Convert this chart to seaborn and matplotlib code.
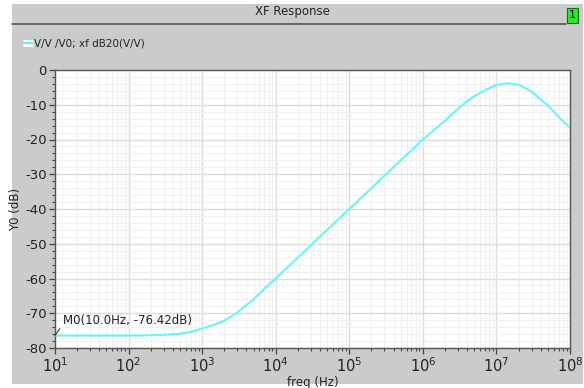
import numpy as np
import pandas as pd
import seaborn as sns
import matplotlib
matplotlib.use("Agg")
import matplotlib.pyplot as plt
from matplotlib.ticker import LogLocator, MultipleLocator, NullFormatter, FixedLocator
from matplotlib.patches import Rectangle
from matplotlib.lines import Line2D

# ---- data ----
freq_hz = [10, 50, 100, 200, 300, 500, 700, 1e3, 1.5e3, 2e3, 3e3, 5e3, 7e3,
           1e4, 2e4, 5e4, 1e5, 2e5, 5e5, 1e6, 2e6, 3e6, 4e6, 5e6, 7e6,
           1e7, 1.4e7, 2e7, 3e7, 5e7, 7e7, 1e8]
gain_db = [-76.42, -76.42, -76.41, -76.36, -76.2, -75.9, -75.4, -74.4, -73.2,
           -72.2, -69.8, -66.0, -63.0, -60.0, -54.0, -46.0, -40.0, -34.0,
           -26.0, -20.0, -14.6, -11.2, -9.0, -7.6, -5.8, -4.3, -3.8, -4.2,
           -6.2, -10.2, -13.5, -16.6]
x_ticks = [1e1, 1e2, 1e3, 1e4, 1e5, 1e6, 1e7, 1e8]
x_tick_labels = [r"$10^{1}$", r"$10^{2}$", r"$10^{3}$", r"$10^{4}$",
                 r"$10^{5}$", r"$10^{6}$", r"$10^{7}$", r"$10^{8}$"]
y_ticks = [0, -10, -20, -30, -40, -50, -60, -70, -80]
title_text = "XF Response"
legend_text = "V/V /V0; xf dB20(V/V)"
marker_text = "M0(10.0Hz, -76.42dB)"
marker_point = (10.0, -76.42)

df = pd.DataFrame({"freq": freq_hz, "db": gain_db})

sns.set_theme(style="white")
plt.rcParams["font.family"] = ["DejaVu Sans"]
plt.rcParams["axes.unicode_minus"] = False
plt.rcParams["mathtext.default"] = "regular"

W, H = 584, 388
fig = plt.figure(figsize=(W / 100, H / 100), dpi=100)
fig.patch.set_facecolor("white")

gray = "#cbcbcb"
fig.add_artist(Rectangle((12 / W, 1 - 384 / H), (583 - 12) / W, (384 - 4) / H,
                         transform=fig.transFigure, facecolor=gray,
                         edgecolor="none", zorder=0))
fig.add_artist(Line2D([12 / W, 566 / W], [1 - 24 / H, 1 - 24 / H],
                      transform=fig.transFigure, color="#555555", lw=1.2))
fig.add_artist(Rectangle((567 / W, 1 - 23 / H), 11 / W, 15 / H,
                         transform=fig.transFigure, facecolor="#22ee22",
                         edgecolor="#226622", lw=0.8))
fig.text(572.5 / W, 1 - 15.5 / H, "1", ha="center", va="center",
         fontsize=8, color="black")
fig.text(292 / W, 1 - 12 / H, title_text, ha="center", va="center",
         fontsize=8.5, color="#222222")

fig.add_artist(Line2D([23 / W, 33 / W], [1 - 43 / H, 1 - 43 / H],
                      transform=fig.transFigure, color="white", lw=5,
                      solid_capstyle="butt"))
fig.add_artist(Line2D([23 / W, 33 / W], [1 - 43 / H, 1 - 43 / H],
                      transform=fig.transFigure, color="#66f6f6", lw=1.6,
                      solid_capstyle="butt"))
fig.text(34 / W, 1 - 43 / H, legend_text, ha="left", va="center",
         fontsize=7.5, color="#222222")

ax = fig.add_axes([55 / W, 1 - 348 / H, (570 - 55) / W, (348 - 70) / H])
ax.set_facecolor("white")

sns.lineplot(data=df, x="freq", y="db", ax=ax, color="#66f6f6", lw=1.5,
             sort=False, zorder=3)
ax.set_xscale("log")
ax.set_xlim(10, 1e8)
ax.set_ylim(-80, 0)

ax.xaxis.set_major_locator(FixedLocator(x_ticks))
ax.set_xticklabels(x_tick_labels)
ax.xaxis.set_minor_locator(LogLocator(base=10, subs=np.arange(2, 10), numticks=100))
ax.xaxis.set_minor_formatter(NullFormatter())
ax.set_yticks(y_ticks)
ax.yaxis.set_minor_locator(MultipleLocator(2))

ax.grid(True, which="major", color="#dcdcdc", lw=1.0)
ax.grid(True, which="minor", color="#f0f0f0", lw=0.8)
ax.set_axisbelow(True)

ax.tick_params(which="major", direction="out", length=4, width=0.9,
               colors="#444444", labelcolor="#222222", labelsize=9.5,
               bottom=True, left=True, pad=2)
ax.tick_params(axis="x", which="major", labelsize=10.5)
ax.tick_params(which="minor", direction="out", length=2.5, width=0.8,
               colors="#444444", bottom=True, left=True)

for s in ax.spines.values():
    s.set_color("#555555")
    s.set_linewidth(1.0)

ax.set_xlabel("freq (Hz)", fontsize=8.5, color="#222222", labelpad=1)
ax.set_ylabel("Y0 (dB)", fontsize=8.5, color="#222222", labelpad=2)

ax.annotate(marker_text, xy=marker_point, xytext=(8, 9),
            textcoords="offset pixels", fontsize=8.5, color="#222222",
            ha="left", va="bottom",
            arrowprops=dict(arrowstyle="-", color="#333333", lw=0.8,
                            shrinkA=0, shrinkB=0, relpos=(0.0, 0.2)))

fig.savefig("out.png", dpi=100)
